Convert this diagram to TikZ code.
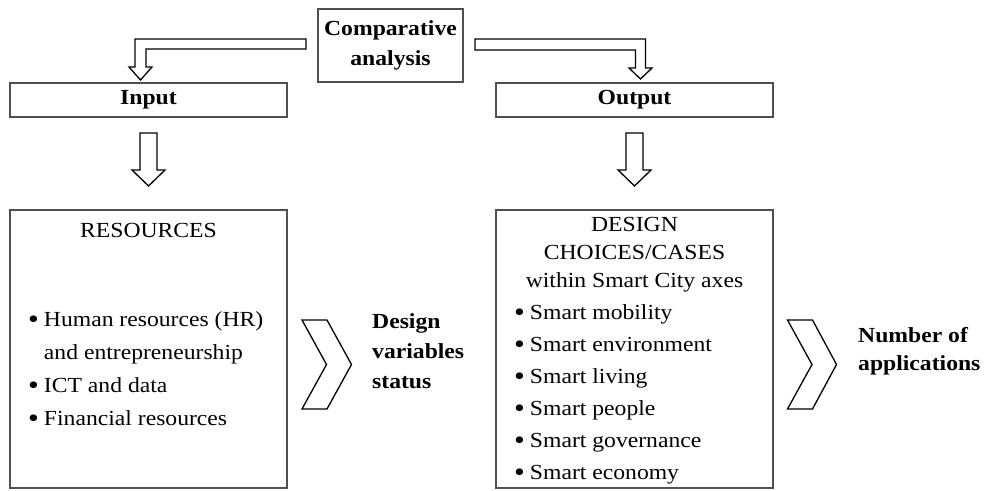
\documentclass[tikz,border=0pt]{standalone}
\usepackage{fontspec}
\setmainfont[FakeStretch=1.1]{Liberation Serif}
\definecolor{framegray}{HTML}{505050}
\newcommand\listdot{\raisebox{-0.12em}{\scalebox{1.3}{\textbullet}}}
\begin{document}
\begin{tikzpicture}[x=1pt,y=-1pt,
  frame/.style={draw=framegray,line width=1.1pt,rectangle,inner sep=0pt},
  blockarrow/.style={draw=black,line width=1.3pt,fill=white,line join=miter},
  body/.style={font=\fontsize{21.5}{30}\selectfont,inner sep=0pt},
  label/.style={font=\fontsize{21.5}{30}\selectfont\bfseries,inner sep=0pt,align=left}]
\useasboundingbox (0,0) rectangle (990,490);

% top boxes
\node[frame,minimum width=145,minimum height=73,align=center,
      font=\fontsize{21.5}{30}\selectfont\bfseries] (comp) at (390.5,45.5) {Comparative\\analysis};
\node[frame,minimum width=277,minimum height=34,font=\fontsize{21.5}{24}\selectfont\bfseries] (input) at (148.5,100) {Input};
\node[frame,minimum width=277,minimum height=34,font=\fontsize{21.5}{24}\selectfont\bfseries] (output) at (634.5,100) {Output};

% lower boxes
\node[frame,minimum width=277,minimum height=278] (res) at (148.5,349) {};
\node[frame,minimum width=277,minimum height=278] (des) at (634.5,349) {};

% bent block arrows from the comparative analysis box
\draw[blockarrow] (306,39) -- (135,39) -- (135,67) -- (129,67) -- (140.5,80)
  -- (152,67) -- (146,67) -- (146,49) -- (306,49) -- cycle;
\draw[blockarrow] (475,39) -- (645.5,39) -- (645.5,68) -- (652,68) -- (640.5,79)
  -- (629,68) -- (635.5,68) -- (635.5,50) -- (475,50) -- cycle;

% straight down block arrows
\draw[blockarrow] (140,133) -- (157,133) -- (157,170) -- (165,170) -- (148.5,186)
  -- (132,170) -- (140,170) -- cycle;
\draw[blockarrow] (626,133) -- (643,133) -- (643,170) -- (651,170) -- (634.5,186)
  -- (618,170) -- (626,170) -- cycle;

% chevrons
\draw[blockarrow] (302,320) -- (327,320) -- (351.5,364.5) -- (327,409) -- (302,409)
  -- (326.5,364.5) -- cycle;
\draw[blockarrow] (787.5,320) -- (812.5,320) -- (836.5,364.5) -- (812.5,409) -- (787.5,409)
  -- (812,364.5) -- cycle;

% resources box text
\node[body] (restitle) at (148.5,230) {RESOURCES};
\node[body,anchor=west,font=\fontsize{21.5}{33}\selectfont] (reslist) at (28,369) {%
  \begin{tabular}{@{}l@{\hspace{5pt}}l@{}}
  \listdot & Human resources (HR)\\
   & and entrepreneurship\\
  \listdot & ICT and data\\
  \listdot & Financial resources
  \end{tabular}};

% design choices box text
\node[body,align=center,font=\fontsize{21.5}{28}\selectfont] (destitle) at (634.5,255)
  {DESIGN\\CHOICES/CASES\\within Smart City axes};
\node[body,anchor=west,font=\fontsize{21.5}{32}\selectfont] (deslist) at (514,393) {%
  \begin{tabular}{@{}l@{\hspace{5pt}}l@{}}
  \listdot & Smart mobility\\
  \listdot & Smart environment\\
  \listdot & Smart living\\
  \listdot & Smart people\\
  \listdot & Smart governance\\
  \listdot & Smart economy
  \end{tabular}};

% outcome labels
\node[label,anchor=west] (status) at (372,351) {Design\\variables\\status};
\node[label,anchor=west,font=\fontsize{21.5}{28}\selectfont\bfseries] (apps) at (858,351) {Number of\\applications};
\end{tikzpicture}
\end{document}
